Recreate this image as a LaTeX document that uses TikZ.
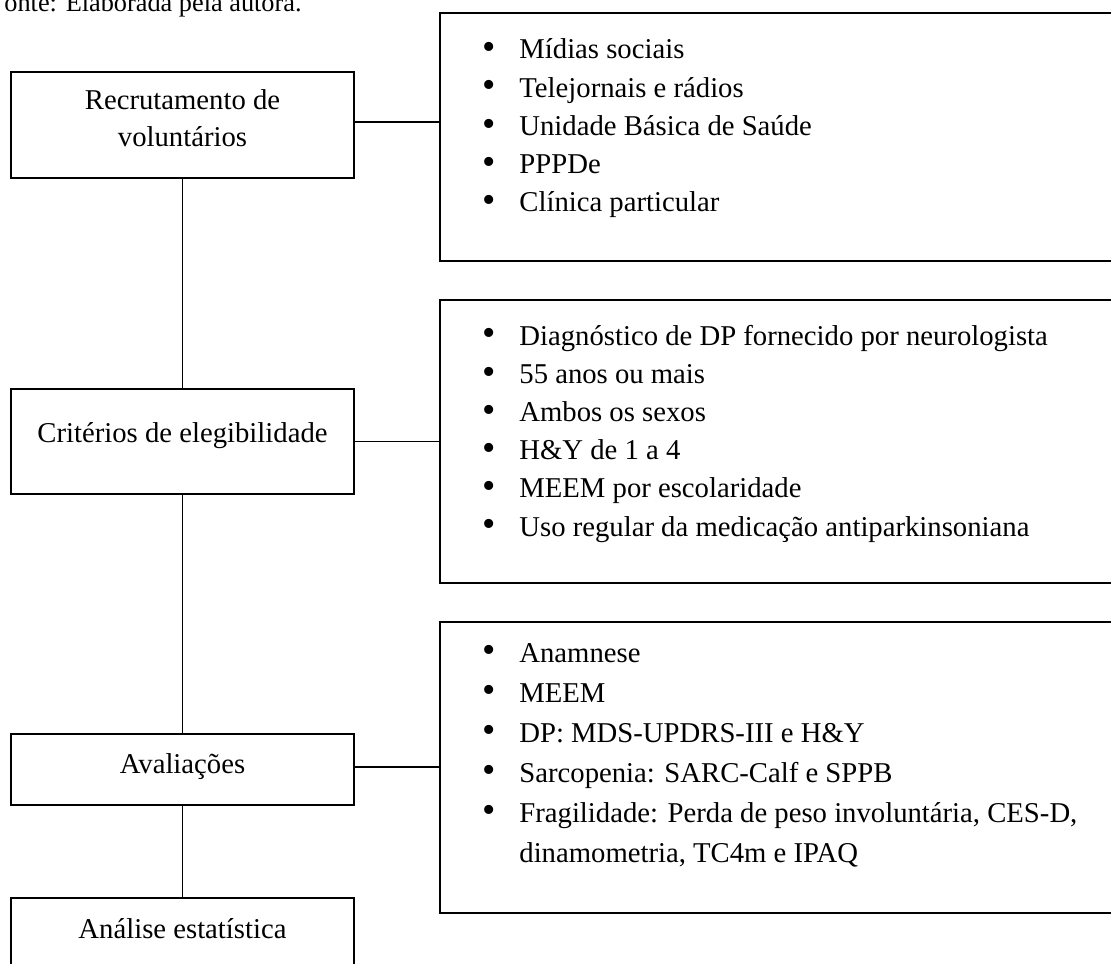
\documentclass[tikz,border=0pt]{standalone}
\usepackage{fontspec}
\setmainfont{Liberation Serif}
\usetikzlibrary{fit}

% bullet of a list entry and the matching hanging indent
\newcommand\itembullet{\makebox[18.5pt][l]{\raisebox{-0.4pt}{\fontsize{19}{19}\selectfont\textbullet}}}
\newcommand\hangentry{\hspace*{18.5pt}}

\begin{document}
\begin{tikzpicture}[x=0.5pt,y=-0.5pt,
  frame/.style={draw, line width=0.9pt, inner sep=0pt},
  link/.style={line width=0.9pt},
  caption/.style={inner sep=0pt, anchor=base west, font=\fontsize{13.15}{16}\selectfont},
  stage/.style={inner sep=0pt, anchor=base, font=\fontsize{14.35}{18}\selectfont},
  items/.style={inner sep=0pt, anchor=base west, font=\fontsize{14.35}{#1}\selectfont},
]
\useasboundingbox (0,0) rectangle (1111,963);
\fill[white] (0,0) rectangle (1111,963);

% source line
\node[caption] (src) at (4,11.7) {onte: Elaborada pela autora.};

% stages of the study
\node[frame, fit={(11,72) (354,178)}] (b1) {};
\node[frame, fit={(11,389) (354,494)}] (b2) {};
\node[frame, fit={(11,734) (354,805)}] (b3) {};
\node[frame, fit={(11,898) (354,1000)}] (b4) {};

\node[stage] (t1) at (182.5,110) {\parbox[t]{200pt}{\centering Recrutamento de\\voluntários}};
\node[stage] (t2) at (182.5,442.5) {Critérios de elegibilidade};
\node[stage] (t3) at (182.5,773) {Avaliações};
\node[stage] (t4) at (182.5,938) {Análise estatística};

% detail boxes
\node[frame, fit={(440,13) (1120,261)}] (r1) {};
\node[frame, fit={(440,300) (1120,583)}] (r2) {};
\node[frame, fit={(440,622) (1120,913)}] (r3) {};

\node[items=19.1] (l1) at (482,59) {\parbox[t]{320pt}{\raggedright
  \itembullet Mídias sociais\\
  \itembullet Telejornais e rádios\\
  \itembullet Unidade Básica de Saúde\\
  \itembullet PPPDe\\
  \itembullet Clínica particular}};

\node[items=19.1] (l2) at (482,345) {\parbox[t]{320pt}{\raggedright
  \itembullet Diagnóstico de DP fornecido por neurologista\\
  \itembullet 55 anos ou mais\\
  \itembullet Ambos os sexos\\
  \itembullet H\&Y de 1 a 4\\
  \itembullet MEEM por escolaridade\\
  \itembullet Uso regular da medicação antiparkinsoniana}};

\node[items=20] (l3) at (482,662) {\parbox[t]{320pt}{\raggedright
  \itembullet Anamnese\\
  \itembullet MEEM\\
  \itembullet DP: MDS-UPDRS-III e H\&Y\\
  \itembullet Sarcopenia: SARC-Calf e SPPB\\
  \itembullet Fragilidade: Perda de peso involuntária, CES-D,\\
  \hangentry dinamometria, TC4m e IPAQ}};

% connectors
\draw[link] (b1.south) -- (b2.north);
\draw[link] (b2.south) -- (b3.north);
\draw[link] (b3.south) -- (b4.north);
\draw[link] ([yshift=1.5pt]b1.east) coordinate (c1) -- (c1 -| r1.west);
\draw[link] (b2.east) -- (b2.east -| r2.west);
\draw[link] ([yshift=1.25pt]b3.east) coordinate (c3) -- (c3 -| r3.west);
\end{tikzpicture}
\end{document}
